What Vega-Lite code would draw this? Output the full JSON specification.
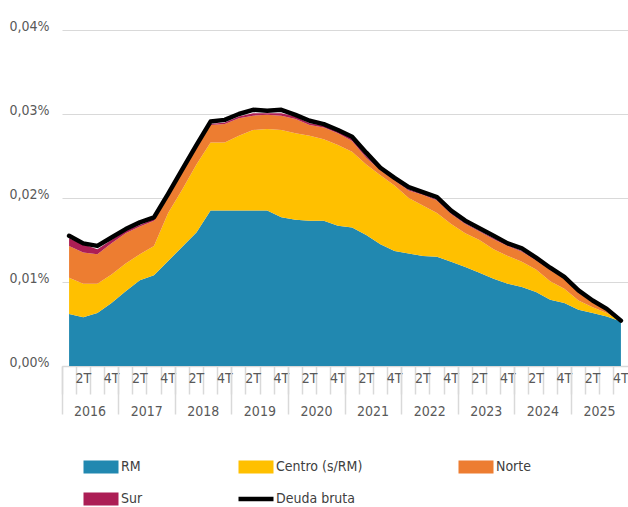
{
  "$schema": "https://vega.github.io/schema/vega-lite/v6.json",
  "width": 566,
  "height": 336,
  "autosize": {"type": "none"},
  "padding": {"left": 62, "top": 30, "right": 0, "bottom": 141},
  "background": "white",
  "config": {
    "view": {"stroke": null},
    "font": "DejaVu Sans Condensed, Liberation Sans Narrow, Roboto, sans-serif"
  },
  "datasets": {
    "t": [
      {"q": "2016-1", "RM": 0.0062, "Centro (s/RM)": 0.0043, "Norte": 0.0038, "Sur": 0.0009, "Deuda": 0.0155},
      {"q": "2016-2", "RM": 0.0058, "Centro (s/RM)": 0.0040, "Norte": 0.0037, "Sur": 0.0010, "Deuda": 0.0146},
      {"q": "2016-3", "RM": 0.0063, "Centro (s/RM)": 0.0035, "Norte": 0.0035, "Sur": 0.0006, "Deuda": 0.0143},
      {"q": "2016-4", "RM": 0.0075, "Centro (s/RM)": 0.0034, "Norte": 0.0037, "Sur": 0.0004, "Deuda": 0.0153},
      {"q": "2017-1", "RM": 0.0089, "Centro (s/RM)": 0.0033, "Norte": 0.0036, "Sur": 0.0003, "Deuda": 0.0163},
      {"q": "2017-2", "RM": 0.0102, "Centro (s/RM)": 0.0031, "Norte": 0.0033, "Sur": 0.0002, "Deuda": 0.0171},
      {"q": "2017-3", "RM": 0.0108, "Centro (s/RM)": 0.0035, "Norte": 0.0030, "Sur": 0.0002, "Deuda": 0.0177},
      {"q": "2017-4", "RM": 0.0125, "Centro (s/RM)": 0.0057, "Norte": 0.0020, "Sur": 0.0001, "Deuda": 0.0205},
      {"q": "2018-1", "RM": 0.0142, "Centro (s/RM)": 0.0068, "Norte": 0.0022, "Sur": 0.0001, "Deuda": 0.0234},
      {"q": "2018-2", "RM": 0.0159, "Centro (s/RM)": 0.0081, "Norte": 0.0021, "Sur": 0.0001, "Deuda": 0.0263},
      {"q": "2018-3", "RM": 0.0185, "Centro (s/RM)": 0.0081, "Norte": 0.0021, "Sur": 0.0001, "Deuda": 0.0291},
      {"q": "2018-4", "RM": 0.0185, "Centro (s/RM)": 0.0081, "Norte": 0.0022, "Sur": 0.0002, "Deuda": 0.0293},
      {"q": "2019-1", "RM": 0.0185, "Centro (s/RM)": 0.0089, "Norte": 0.0021, "Sur": 0.0002, "Deuda": 0.0300},
      {"q": "2019-2", "RM": 0.0185, "Centro (s/RM)": 0.0096, "Norte": 0.0017, "Sur": 0.0003, "Deuda": 0.0305},
      {"q": "2019-3", "RM": 0.0185, "Centro (s/RM)": 0.0097, "Norte": 0.0017, "Sur": 0.0002, "Deuda": 0.0304},
      {"q": "2019-4", "RM": 0.0177, "Centro (s/RM)": 0.0104, "Norte": 0.0017, "Sur": 0.0003, "Deuda": 0.0305},
      {"q": "2020-1", "RM": 0.0174, "Centro (s/RM)": 0.0103, "Norte": 0.0017, "Sur": 0.0003, "Deuda": 0.0299},
      {"q": "2020-2", "RM": 0.0173, "Centro (s/RM)": 0.0101, "Norte": 0.0013, "Sur": 0.0002, "Deuda": 0.0292},
      {"q": "2020-3", "RM": 0.0173, "Centro (s/RM)": 0.0097, "Norte": 0.0014, "Sur": 0.0002, "Deuda": 0.0288},
      {"q": "2020-4", "RM": 0.0167, "Centro (s/RM)": 0.0096, "Norte": 0.0014, "Sur": 0.0002, "Deuda": 0.0281},
      {"q": "2021-1", "RM": 0.0165, "Centro (s/RM)": 0.0090, "Norte": 0.0013, "Sur": 0.0003, "Deuda": 0.0273},
      {"q": "2021-2", "RM": 0.0156, "Centro (s/RM)": 0.0084, "Norte": 0.0008, "Sur": 0.0002, "Deuda": 0.0254},
      {"q": "2021-3", "RM": 0.0145, "Centro (s/RM)": 0.0082, "Norte": 0.0006, "Sur": 0.0001, "Deuda": 0.0236},
      {"q": "2021-4", "RM": 0.0137, "Centro (s/RM)": 0.0078, "Norte": 0.0006, "Sur": 0.0001, "Deuda": 0.0224},
      {"q": "2022-1", "RM": 0.0134, "Centro (s/RM)": 0.0066, "Norte": 0.0009, "Sur": 0.0001, "Deuda": 0.0213},
      {"q": "2022-2", "RM": 0.0131, "Centro (s/RM)": 0.0060, "Norte": 0.0013, "Sur": 0.0001, "Deuda": 0.0207},
      {"q": "2022-3", "RM": 0.0130, "Centro (s/RM)": 0.0052, "Norte": 0.0015, "Sur": 0.0001, "Deuda": 0.0201},
      {"q": "2022-4", "RM": 0.0124, "Centro (s/RM)": 0.0045, "Norte": 0.0012, "Sur": 0.0001, "Deuda": 0.0185},
      {"q": "2023-1", "RM": 0.0118, "Centro (s/RM)": 0.0040, "Norte": 0.0011, "Sur": 0.0001, "Deuda": 0.0173},
      {"q": "2023-2", "RM": 0.0111, "Centro (s/RM)": 0.0039, "Norte": 0.0010, "Sur": 0.0001, "Deuda": 0.0164},
      {"q": "2023-3", "RM": 0.0104, "Centro (s/RM)": 0.0035, "Norte": 0.0012, "Sur": 0.0001, "Deuda": 0.0155},
      {"q": "2023-4", "RM": 0.0098, "Centro (s/RM)": 0.0033, "Norte": 0.0012, "Sur": 0.0001, "Deuda": 0.0146},
      {"q": "2024-1", "RM": 0.0094, "Centro (s/RM)": 0.0030, "Norte": 0.0012, "Sur": 0.0001, "Deuda": 0.0140},
      {"q": "2024-2", "RM": 0.0088, "Centro (s/RM)": 0.0027, "Norte": 0.0011, "Sur": 0.0001, "Deuda": 0.0129},
      {"q": "2024-3", "RM": 0.0079, "Centro (s/RM)": 0.0022, "Norte": 0.0013, "Sur": 0.0001, "Deuda": 0.0117},
      {"q": "2024-4", "RM": 0.0075, "Centro (s/RM)": 0.0017, "Norte": 0.0012, "Sur": 0.0001, "Deuda": 0.0106},
      {"q": "2025-1", "RM": 0.0067, "Centro (s/RM)": 0.0011, "Norte": 0.0009, "Sur": 0.0001, "Deuda": 0.0090},
      {"q": "2025-2", "RM": 0.0063, "Centro (s/RM)": 0.0007, "Norte": 0.0006, "Sur": 0.0000, "Deuda": 0.0078},
      {"q": "2025-3", "RM": 0.0059, "Centro (s/RM)": 0.0004, "Norte": 0.0003, "Sur": 0.0000, "Deuda": 0.0068},
      {"q": "2025-4", "RM": 0.0053, "Centro (s/RM)": 0.0000, "Norte": 0.0000, "Sur": 0.0000, "Deuda": 0.0054}
    ]
  },
  "layer": [
    {
      "data": {"name": "t"},
      "transform": [
        {"fold": ["RM", "Centro (s/RM)", "Norte", "Sur"], "as": ["serie", "v"]},
        {"calculate": "indexof(['RM','Centro (s/RM)','Norte','Sur'], datum.serie)", "as": "ord"}
      ],
      "mark": {"type": "area", "interpolate": "linear"},
      "encoding": {
        "x": {
          "field": "q", "type": "ordinal", "bandPosition": 0.5, "title": null,
          "scale": {"type": "band", "paddingInner": 0, "paddingOuter": 0},
          "axis": {
            "orient": "bottom", "bandPosition": 0, "grid": false,
            "domainColor": "#d9d9d9", "domainWidth": 1.5,
            "tickColor": "#d9d9d9", "tickWidth": 1.5, "tickSize": 28,
            "labelPadding": -16, "labelBaseline": "middle", "labelAngle": 0, "labelAlign": "center",
            "labelExpr": "slice(datum.value, 5) == '2' ? '2T' : (slice(datum.value, 5) == '4' ? '4T' : '')",
            "labelOverlap": false, "labelFlush": false, "labelFontSize": 14, "labelColor": "#595959"
          }
        },
        "y": {
          "field": "v", "type": "quantitative", "stack": "zero", "title": null,
          "scale": {"domain": [0, 0.04]},
          "axis": {
            "values": [0, 0.01, 0.02, 0.03, 0.04],
            "labelExpr": "replace(format(datum.value, '.2f'), '.', ',') + '%'",
            "domain": false, "ticks": false, "grid": true,
            "gridColor": "#d9d9d9", "gridWidth": 1,
            "labelPadding": 13, "labelBaseline": "alphabetic",
            "labelFontSize": 14, "labelColor": "#595959"
          }
        },
        "color": {
          "field": "serie", "type": "nominal",
          "scale": {
            "domain": ["RM", "Centro (s/RM)", "Norte", "Sur", "Deuda bruta"],
            "range": ["#2188b0", "#ffc000", "#ed7d31", "#ac1e55", "#000000"]
          },
          "legend": {
            "title": null, "orient": "none", "legendX": 21, "legendY": 430,
            "columns": 3, "direction": "horizontal", "gridAlign": "each",
            "symbolSize": 169, "symbolStrokeWidth": 0, "symbolOpacity": 1,
            "labelFontSize": 14, "labelColor": "#404040", "labelOffset": 24,
            "columnPadding": 95, "rowPadding": 18, "padding": 0,
            "encode": {
              "symbols": {
                "update": {
                  "shape": {"signal": "datum.label === 'Deuda bruta' ? 'M-1,-0.35H4.385V0.35H-1Z' : 'M-1,-1H4.385V1H-1Z'"},
                  "stroke": {"value": "transparent"}
                }
              }
            }
          }
        },
        "order": {"field": "ord", "type": "quantitative"}
      }
    },
    {
      "data": {"name": "t"},
      "mark": {"type": "line", "color": "#000000", "strokeWidth": 4.5, "strokeJoin": "round", "strokeCap": "round"},
      "encoding": {
        "x": {
          "field": "q", "type": "ordinal", "bandPosition": 0.5, "title": null,
          "axis": {
            "orient": "bottom", "bandPosition": 0, "grid": false, "domain": false,
            "values": ["2016-1", "2017-1", "2018-1", "2019-1", "2020-1", "2021-1", "2022-1", "2023-1", "2024-1", "2025-1"],
            "tickColor": "#d9d9d9", "tickWidth": 1.5, "tickSize": 48,
            "labelPadding": -3, "labelBaseline": "middle", "labelAngle": 0, "labelAlign": "center",
            "labelOffset": 21, "labelExpr": "slice(datum.value, 0, 4)",
            "labelOverlap": false, "labelFlush": false, "labelFontSize": 14, "labelColor": "#595959"
          }
        },
        "y": {"field": "Deuda", "type": "quantitative", "title": null}
      }
    }
  ],
  "resolve": {"axis": {"x": "independent"}}
}
